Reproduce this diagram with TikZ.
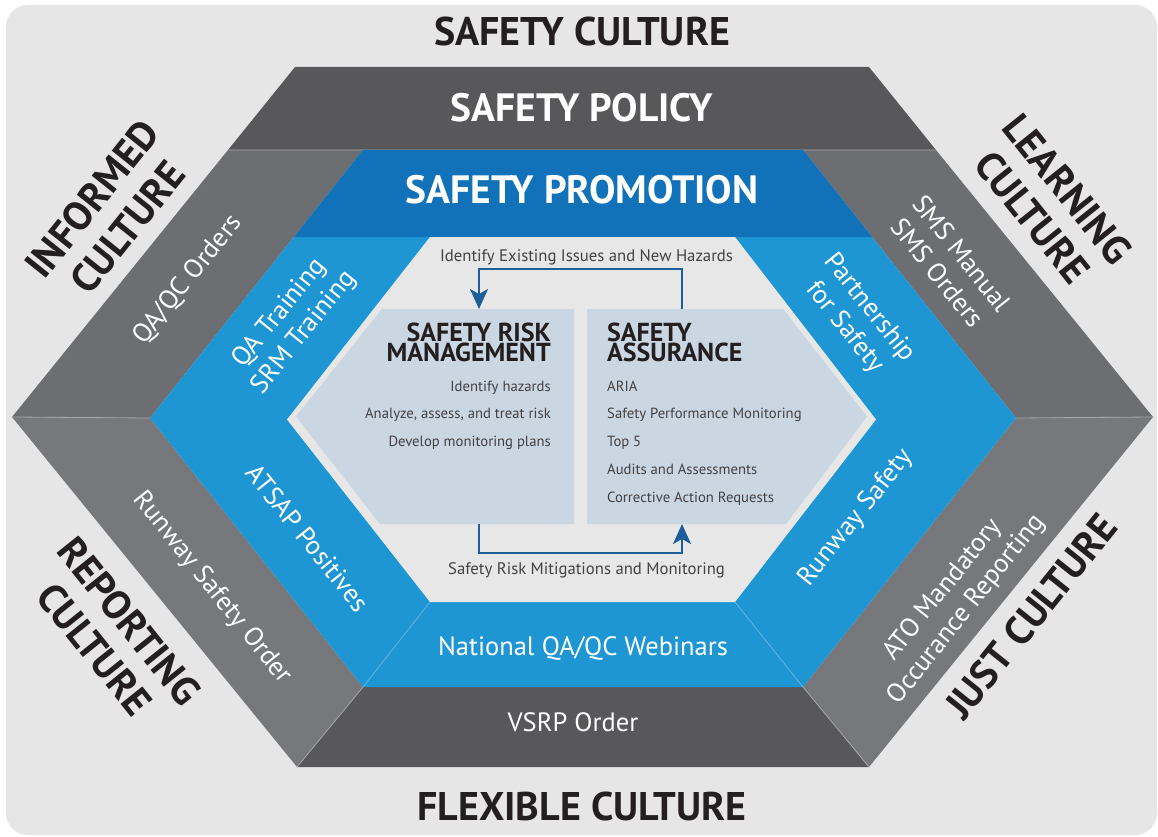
\documentclass[tikz,border=0pt]{standalone}
\usepackage{fontspec}
\setmainfont{PT Sans}
\usetikzlibrary{arrows.meta}
\definecolor{bgcol}{HTML}{E6E6E6}
\definecolor{policy}{HTML}{58585A}
\definecolor{sideup}{HTML}{6D6E71}
\definecolor{sidelow}{HTML}{77787B}
\definecolor{promo}{HTML}{1172B9}
\definecolor{bandblue}{HTML}{1E96D4}
\definecolor{core}{HTML}{E7E7E8}
\definecolor{boxcol}{HTML}{CAD6E2}
\definecolor{flowcol}{HTML}{1D5E9A}
\definecolor{ink}{HTML}{231F20}
\tikzset{
  culture/.style={text=ink,font=\fontsize{40}{45}\selectfont\bfseries,align=center},
  band/.style={text=white,font=\fontsize{39.5}{42}\selectfont\bfseries},
  item/.style={text=white,font=\fontsize{26.5}{31}\selectfont,align=center},
  head/.style={text=ink,font=\fontsize{26}{20.7}\selectfont\bfseries,inner sep=0pt},
  listtxt/.style={text=ink!85,font=\fontsize{14.7}{27.8}\selectfont,inner sep=0pt},
  flowlbl/.style={text=ink!85,font=\fontsize{16.7}{20}\selectfont,inner sep=0pt},
  flow/.style={draw=flowcol,line width=2.2pt,-{Stealth[length=20pt,width=18pt,inset=5pt]}},
  seam/.style={line width=0.8pt}
}
\begin{document}
\begin{tikzpicture}[x=1pt,y=-1pt]
\useasboundingbox (0,0) rectangle (1158,837);
\fill[white] (0,0) rectangle (1158,837);
\fill[bgcol,rounded corners=22pt] (6,5) rectangle (1157,835);
\coordinate (o1) at (295,67);\coordinate (o2) at (869,67);\coordinate (o3) at (1153,417);
\coordinate (o4) at (869,767);\coordinate (o5) at (297,767);\coordinate (o6) at (12,417);
\coordinate (ol) at (228,150);\coordinate (or) at (936,150);
\coordinate (b1) at (363,150);\coordinate (b2) at (803,150);\coordinate (b3) at (1016,418);
\coordinate (b4) at (803,687);\coordinate (b5) at (363,687);\coordinate (b6) at (150,418);
\coordinate (bl) at (294,237);\coordinate (br) at (872,237);
\coordinate (c1) at (430,237);\coordinate (c2) at (735,237);\coordinate (c3) at (876,419.5);
\coordinate (c4) at (735,602);\coordinate (c5) at (430,602);\coordinate (c6) at (287,419.5);
\fill[policy] (o1)--(o2)--(or)--(ol)--cycle;
\fill[policy] (o5)--(b5)--(b4)--(o4)--cycle;
\fill[sideup] (ol)--(b1)--(b6)--(o6)--cycle;
\fill[sideup] (or)--(b2)--(b3)--(o3)--cycle;
\fill[sidelow] (o6)--(b6)--(b5)--(o5)--cycle;
\fill[sidelow] (o3)--(b3)--(b4)--(o4)--cycle;
\draw[seam,gray!70] (ol)--(or) (o6)--(b6) (o3)--(b3) (b5)--(o5) (b4)--(o4);
\fill[bandblue] (b1)--(b2)--(b3)--(b4)--(b5)--(b6)--cycle;
\fill[promo] (b1)--(b2)--(br)--(bl)--cycle;
\draw[seam,bandblue!70!white] (b5)--(c5) (b4)--(c4);
\fill[core] (c1)--(c2)--(c3)--(c4)--(c5)--(c6)--cycle;
\fill[boxcol] (382,309)--(574,309)--(574,524)--(380,524)--(296,416.5)--cycle;
\fill[boxcol] (587,309)--(783,309)--(867,416.5)--(786,524)--(587,524)--cycle;
\coordinate (srmT) at (479,309);\coordinate (saT) at (682,309);
\coordinate (srmB) at (479,524);\coordinate (saB) at (682,524);
\draw[flow] (saT) -- ++(0,-40) -| (srmT);
\draw[flow] (srmB) -- ++(0,29) -| (saB);
\node[flowlbl,anchor=base] (idlbl) at (586.5,261) {Identify Existing Issues and New Hazards};
\node[flowlbl,anchor=base] (mitlbl) at (586.5,574) {Safety Risk Mitigations and Monitoring};
\node[head,anchor=north east,align=right] (srmh) at (551,322.5) {SAFETY RISK\\MANAGEMENT};
\node[head,anchor=north west,align=left] (sah) at (607,322.5) {SAFETY\\ASSURANCE};
\node[listtxt,anchor=north east,align=right] (srml) at (551,380.5) {Identify hazards\\Analyze, assess, and treat risk\\Develop monitoring plans};
\node[listtxt,anchor=north west,align=left] (sal) at (607,380.5) {ARIA\\Safety Performance Monitoring\\Top 5\\Audits and Assessments\\Corrective Action Requests};
\node[culture,anchor=base] (sc) at (582,46) {SAFETY CULTURE};
\node[band,anchor=base] (pol) at (582,122) {SAFETY POLICY};
\node[band,anchor=base] (pro) at (582,203) {SAFETY PROMOTION};
\node[culture,anchor=base] (fc) at (582,820) {FLEXIBLE CULTURE};
\node[culture,rotate=51.3] (ic) at (110,213) {INFORMED\\CULTURE};
\node[culture,rotate=-51.3] (lc) at (1050,203) {LEARNING\\CULTURE};
\node[culture,rotate=-51.3] (rc) at (112,635) {REPORTING\\CULTURE};
\node[culture,rotate=51.3] (jc) at (1031,616) {JUST CULTURE};
\node[item,rotate=51.3] (qaqc) at (188,280) {QA/QC Orders};
\node[item,rotate=51.3] (trn) at (292,323) {QA Training\\SRM Training};
\node[item,rotate=-51.3] (sms) at (950,263) {SMS Manual\\SMS Orders};
\node[item,rotate=-51.3] (pfs) at (857,318) {Partnership\\for Safety};
\node[item,rotate=-51.3] (atsap) at (308,538) {ATSAP Positives};
\node[item,rotate=-51.3] (rso) at (212,588) {Runway Safety Order};
\node[item,rotate=51.3] (rws) at (856,518) {Runway Safety};
\node[item,rotate=51.3] (ato) at (955,600) {ATO Mandatory\\Occurance Reporting};
\node[item] (web) at (583,648) {National QA/QC Webinars};
\node[item] (vsrp) at (573,722) {VSRP Order};
\end{tikzpicture}
\end{document}
